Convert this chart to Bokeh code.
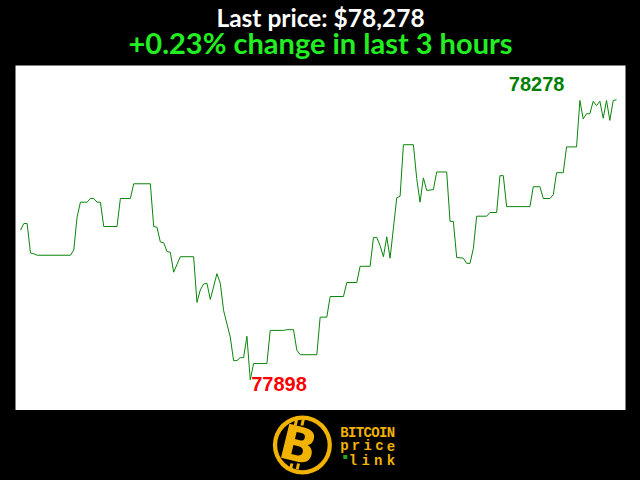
from bokeh.plotting import figure
from bokeh.layouts import column
from bokeh.models import Range1d, GlobalInlineStyleSheet
from bokeh.core.properties import value
from bokeh.embed import file_html
from bokeh.resources import INLINE

# ---- data (minute index within the last 3 hours, price in USD) ----
minutes = [0, 1, 2, 3, 4, 5, 15, 16, 17, 18, 20, 21, 22, 23, 24, 25, 29, 30, 33, 34,
           39, 40, 41, 42, 43, 44, 45, 46, 48, 52, 53, 54, 55, 56, 57, 59, 60, 61, 63, 64,
           65, 66, 67, 68, 69, 70, 74, 75, 79, 80, 82, 83, 84, 89, 90, 92, 93, 97, 98, 101,
           102, 105, 106, 107, 108, 109, 110, 111, 113, 114, 115, 118, 119, 120, 121, 122, 124, 125, 128, 129,
           130, 131, 133, 134, 135, 136, 137, 140, 141, 143, 144, 145, 146, 153, 154, 156, 157, 159, 160, 161,
           163, 164, 167, 168, 169, 170, 171, 172, 173, 174, 175, 176, 177, 178, 179]
prices = [78101, 78110, 78110, 78070, 78069, 78067, 78067, 78074, 78119, 78139, 78139, 78144, 78144, 78139, 78139, 78106, 78106, 78144, 78144, 78164,
          78164, 78106, 78105, 78085, 78084, 78072, 78071, 78044, 78065, 78065, 78003, 78020, 78028, 78029, 78007, 78042, 78029, 77992, 77956, 77924,
          77924, 77928, 77928, 77957, 77898, 77920, 77920, 77965, 77965, 77966, 77966, 77938, 77932, 77932, 77983, 77983, 78011, 78011, 78030, 78030,
          78052, 78052, 78091, 78091, 78080, 78065, 78092, 78063, 78145, 78147, 78217, 78217, 78171, 78139, 78172, 78155, 78156, 78180, 78180, 78113,
          78113, 78064, 78063, 78056, 78056, 78076, 78120, 78120, 78125, 78125, 78175, 78175, 78133, 78133, 78160, 78160, 78144, 78144, 78149, 78179,
          78179, 78214, 78214, 78277, 78252, 78259, 78259, 78276, 78270, 78276, 78253, 78277, 78250, 78277, 78278]
last_price = 78278
change_pct = 0.23
period_hours = 3
high_label = "78278"
low_label = "77898"

BG = "black"
GOLD = "#f2b200"


def base_fig(h, **kw):
    f = figure(width=640, height=h, output_backend="svg", toolbar_location=None,
               x_axis_location=None, y_axis_location=None, **kw)
    f.grid.visible = False
    f.outline_line_color = None
    f.border_fill_color = BG
    f.background_fill_color = BG
    return f


# ---- header ----
top = base_fig(65, x_range=Range1d(0, 640), y_range=Range1d(65, 0), min_border=0)
top.text(x=[320], y=[16.5], text=[f"Last price: ${last_price:,}"],
         text_font=value("Lato"), text_font_style="bold", text_font_size="24.5px",
         text_color="white", text_align="center", text_baseline="alphabetic")
top.text(x=[320], y=[41.5], text=[f"+{change_pct:.2f}% change in last {period_hours} hours"],
         text_font=value("Lato"), text_font_style="bold", text_font_size="29px",
         text_color="#22ee22", text_align="center", text_baseline="alphabetic")

# ---- chart ----
chart = base_fig(345, x_range=Range1d(-1.5, 181.7), y_range=Range1d(77856.3, 78324.5),
                 min_border_left=15, min_border_right=15, min_border_top=0, min_border_bottom=0)
chart.background_fill_color = "white"
chart.line(minutes, prices, line_color="#0a850a", line_width=1)

i_max = prices.index(max(prices))
i_min = prices.index(min(prices))
chart.text(x=[minutes[i_max] - 24], y=[prices[i_max]], text=[high_label],
           text_font=value("Liberation Sans"), text_font_style="bold", text_font_size="20px",
           text_color="#008000", text_align="center", text_baseline="alphabetic", y_offset=-16)
chart.text(x=[minutes[i_min]], y=[prices[i_min]], text=[low_label],
           text_font=value("Liberation Sans"), text_font_style="bold", text_font_size="20px",
           text_color="#ff0000", text_align="left", text_baseline="alphabetic", x_offset=1, y_offset=4)

# ---- logo ----
logo = base_fig(70, x_range=Range1d(0, 640), y_range=Range1d(70, 0), min_border=0)
logo.annulus(x=[301], y=[34.5], inner_radius=26.5, outer_radius=31, fill_color=GOLD, line_color=None)
logo.segment(x0=[295, 302, 290, 297], y0=[9, 9, 53, 53], x1=[293.5, 300.5, 288.5, 295.5], y1=[15, 15, 59, 59],
             line_color=GOLD, line_width=3)
logo.text(x=[297], y=[34], text=["B"], text_font=value("DejaVu Sans"), text_font_style="bold",
          text_font_size="48px", text_color=GOLD, text_align="center", text_baseline="middle", angle=-0.24)

rows = [("BITCOIN", 341, 398, 22), ("price", 341, 398, 35.5), ("link", 350, 398, 50)]
cx, cy, ct = [], [], []
for word, left, right, base in rows:
    n = len(word)
    step = (right - left - 8) / (n - 1)
    for k, ch in enumerate(word):
        cx.append(left + 4 + k * step)
        cy.append(base)
        ct.append(ch)
logo.text(x=cx, y=cy, text=ct, text_font=value("Liberation Mono"), text_font_style="bold",
          text_font_size="14px", text_color=GOLD, text_align="center", text_baseline="alphabetic")
logo.scatter(x=[346], y=[46.5], size=4, marker="square", fill_color="#22aa22", line_color=None)

page = column(top, chart, logo, spacing=0,
              stylesheets=[GlobalInlineStyleSheet(css="html, body { margin: 0; padding: 0; background: #000; }")])

open("out.html", "w").write(file_html(page, INLINE))
